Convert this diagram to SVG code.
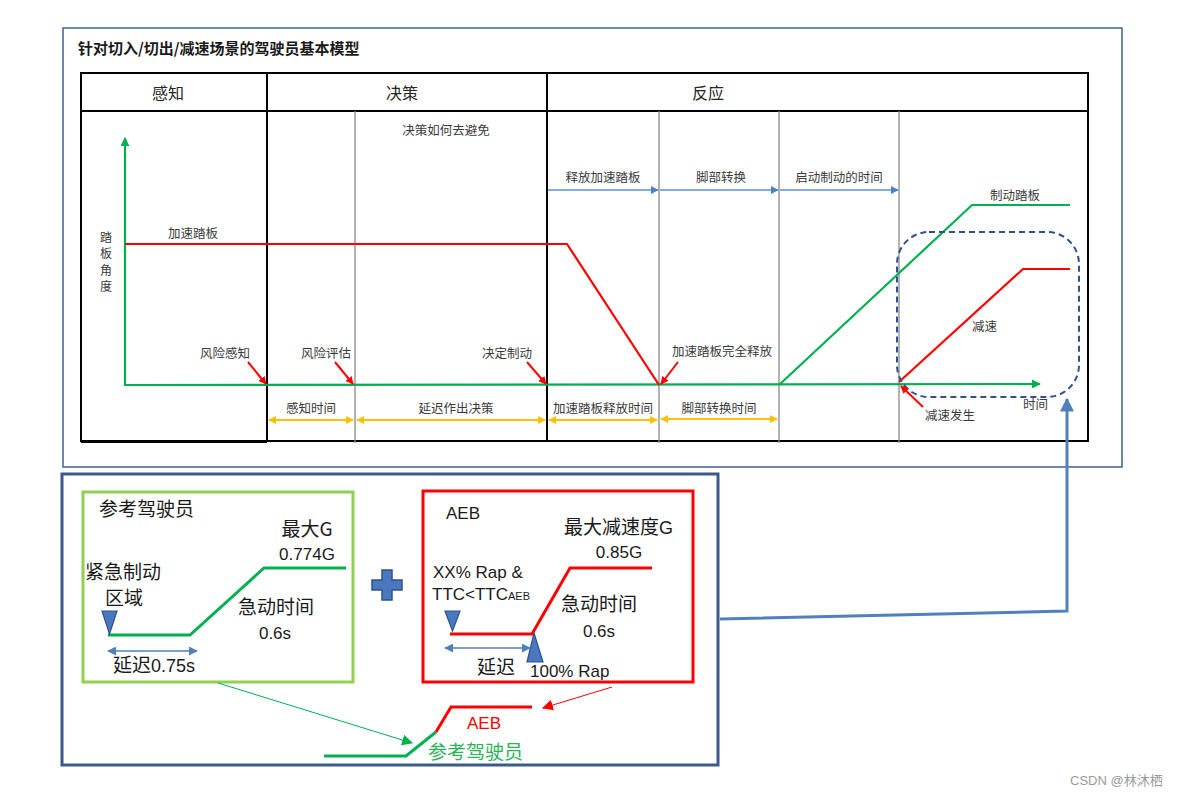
<svg xmlns="http://www.w3.org/2000/svg" width="1185" height="795" viewBox="0 0 1185 795">
<style>
.cj { font-family: "Noto Sans CJK SC", "Liberation Sans", sans-serif; }
.la { font-family: "Liberation Sans", "Noto Sans CJK SC", sans-serif; }
.top { fill:#3a3a3a; font-size:12.5px; }
.vt { fill:#3a3a3a; font-size:12px; }
.hd { fill:#262626; font-size:16px; }
.big { fill:#1a1a1a; font-size:19px; }
.lat { fill:#1a1a1a; font-size:17px; }
.tbl { fill:none; stroke:#000; stroke-width:2; }
.gry { stroke:#8a8a8a; stroke-width:1.3; }
.grn { fill:none; stroke:#00b050; stroke-width:2.2; }
.red { fill:none; stroke:#ff0000; stroke-width:2.2; }
.ptr { stroke:#ff0000; stroke-width:2; marker-end:url(#mRed); }
.blu { stroke:#5b8fd0; stroke-width:1.3; marker-end:url(#mBlue); }
.yel { stroke:#ffc000; stroke-width:2; marker-start:url(#mYel); marker-end:url(#mYel); }
.tri { fill:#4a78bf; stroke:#2f528f; stroke-width:1.2; }
.dbl { stroke:#4f81bd; stroke-width:1.3; marker-start:url(#mDbl); marker-end:url(#mDbl); }
</style>
<defs>
<marker id="mGreen" viewBox="0 0 10 10" refX="9" refY="5" markerWidth="9" markerHeight="9" markerUnits="userSpaceOnUse" orient="auto"><path d="M0,0 L10,5 L0,10 z" fill="#00b050"/></marker>
<marker id="mRed" viewBox="0 0 10 10" refX="9" refY="5" markerWidth="8" markerHeight="8" markerUnits="userSpaceOnUse" orient="auto"><path d="M0,0 L10,5 L0,10 z" fill="#ff0000"/></marker>
<marker id="mBlue" viewBox="0 0 10 10" refX="9" refY="5" markerWidth="8" markerHeight="8" markerUnits="userSpaceOnUse" orient="auto"><path d="M0,0 L10,5 L0,10 z" fill="#4f81bd"/></marker>
<marker id="mYel" viewBox="0 0 10 10" refX="9" refY="5" markerWidth="8" markerHeight="8" markerUnits="userSpaceOnUse" orient="auto-start-reverse"><path d="M0,0 L10,5 L0,10 z" fill="#ffc000"/></marker>
<marker id="mDbl" viewBox="0 0 10 10" refX="9" refY="5" markerWidth="9" markerHeight="9" markerUnits="userSpaceOnUse" orient="auto-start-reverse"><path d="M0,0 L10,5 L0,10 z" fill="#4f81bd"/></marker>
<marker id="mBig" viewBox="0 0 10 10" refX="9" refY="5" markerWidth="14" markerHeight="14" markerUnits="userSpaceOnUse" orient="auto"><path d="M0,0 L10,5 L0,10 z" fill="#4f81bd"/></marker>
<marker id="mGThin" viewBox="0 0 10 10" refX="9" refY="5" markerWidth="11" markerHeight="11" markerUnits="userSpaceOnUse" orient="auto"><path d="M0,0 L10,5 L0,10 z" fill="#00b050"/></marker>
<marker id="mRThin" viewBox="0 0 10 10" refX="9" refY="5" markerWidth="11" markerHeight="11" markerUnits="userSpaceOnUse" orient="auto"><path d="M0,0 L10,5 L0,10 z" fill="#ff0000"/></marker>
</defs>
<rect width="1185" height="795" fill="#fff"/>

<g id="top-frame">
<rect x="63" y="28" width="1059" height="439" fill="none" stroke="#4a6a9a" stroke-width="1.6"/>
<text class="cj" x="78" y="54" font-size="15" font-weight="bold" fill="#1a1a1a">针对切入/切出/减速场景的驾驶员基本模型</text>
</g>

<g id="table">
<rect class="tbl" x="81" y="73" width="1007" height="368"/>
<line class="tbl" x1="81" y1="111" x2="1088" y2="111"/>
<line class="tbl" x1="267" y1="73" x2="267" y2="442"/>
<line class="tbl" x1="547" y1="73" x2="547" y2="441"/>
<line class="tbl" x1="81" y1="442" x2="267" y2="442"/>
<line class="gry" x1="355" y1="111" x2="355" y2="443"/>
<line class="gry" x1="659" y1="111" x2="659" y2="443"/>
<line class="gry" x1="779" y1="111" x2="779" y2="443"/>
<line class="gry" x1="899" y1="111" x2="899" y2="443"/>
</g>
<g id="col-perception"><text class="cj hd" x="168" y="99" text-anchor="middle">感知</text></g>
<g id="col-decision"><text class="cj hd" x="402" y="99" text-anchor="middle">决策</text>
<text class="cj top" x="446" y="135" text-anchor="middle">决策如何去避免</text></g>
<g id="col-reaction"><text class="cj hd" x="708" y="99" text-anchor="middle">反应</text></g>

<g id="chart">
<line x1="125" y1="386" x2="125" y2="138" stroke="#00b050" stroke-width="2.2" marker-end="url(#mGreen)"/>
<line x1="125" y1="385" x2="1040" y2="384" stroke="#00b050" stroke-width="2.2" marker-end="url(#mGreen)"/>
<polyline class="red" points="125,244 567,244 659,385"/>
<polyline class="grn" points="779,385 972,205 1070,205"/>
<polyline class="red" points="899,382 1023,269 1070,269"/>
<rect x="897" y="232" width="182" height="165" rx="32" ry="32" fill="none" stroke="#2f528f" stroke-width="2" stroke-dasharray="6,4"/>
<text class="cj vt" x="100" y="242">踏</text>
<text class="cj vt" x="100" y="258">板</text>
<text class="cj vt" x="100" y="275">角</text>
<text class="cj vt" x="100" y="291">度</text>
<text class="cj top" x="168" y="238">加速踏板</text>
<text class="cj top" x="990" y="200">制动踏板</text>
<text class="cj top" x="972" y="331">减速</text>
<text class="cj top" x="925" y="420">减速发生</text>
<text class="cj top" x="1023" y="409">时间</text>
</g>

<g id="stage-labels">
<line class="blu" x1="548" y1="190" x2="658" y2="190"/>
<line class="blu" x1="660" y1="190" x2="778" y2="190"/>
<line class="blu" x1="780" y1="190" x2="898" y2="190"/>
<text class="cj top" x="603" y="182" text-anchor="middle">释放加速踏板</text>
<text class="cj top" x="721" y="182" text-anchor="middle">脚部转换</text>
<text class="cj top" x="839" y="182" text-anchor="middle">启动制动的时间</text>
</g>

<g id="event-pointers">
<line class="ptr" x1="248" y1="362" x2="266" y2="384"/>
<line class="ptr" x1="335" y1="362" x2="353" y2="384"/>
<line class="ptr" x1="527" y1="362" x2="546" y2="384"/>
<line class="ptr" x1="678" y1="362" x2="661" y2="384"/>
<line class="ptr" x1="923" y1="407" x2="901" y2="386"/>
<text class="cj top" x="200" y="358">风险感知</text>
<text class="cj top" x="301" y="358">风险评估</text>
<text class="cj top" x="482" y="358">决定制动</text>
<text class="cj top" x="672" y="356">加速踏板完全释放</text>
</g>

<g id="timeline">
<line class="yel" x1="269" y1="420" x2="353" y2="420"/>
<line class="yel" x1="357" y1="420" x2="545" y2="420"/>
<line class="yel" x1="549" y1="420" x2="657" y2="420"/>
<line class="yel" x1="661" y1="419" x2="777" y2="419"/>
<text class="cj top" x="311" y="413" text-anchor="middle">感知时间</text>
<text class="cj top" x="456" y="413" text-anchor="middle">延迟作出决策</text>
<text class="cj top" x="603" y="413" text-anchor="middle">加速踏板释放时间</text>
<text class="cj top" x="719" y="413" text-anchor="middle">脚部转换时间</text>
</g>

<g id="bottom-frame">
<rect x="62" y="474" width="656" height="291" fill="none" stroke="#3b5a8c" stroke-width="3"/>
</g>

<g id="ref-driver">
<rect x="83" y="492" width="270" height="190" fill="none" stroke="#92d050" stroke-width="3"/>
<text class="cj big" x="99" y="516">参考驾驶员</text>
<text class="cj big" x="307" y="536" text-anchor="middle">最大G</text>
<text class="la lat" x="307" y="560" text-anchor="middle" font-size="18">0.774G</text>
<text class="cj big" x="85" y="579">紧急制动</text>
<text class="cj big" x="105" y="605">区域</text>
<text class="cj big" x="276" y="614" text-anchor="middle">急动时间</text>
<text class="la lat" x="275" y="639" text-anchor="middle" font-size="18">0.6s</text>
<text class="cj big" x="113" y="672">延迟<tspan class="la" font-size="18">0.75s</tspan></text>
<polyline points="108,635 190,635 264,568 346,568" fill="none" stroke="#00b050" stroke-width="3"/>
<polygon class="tri" points="102,611 117,611 109.5,634"/>
<line class="dbl" x1="108" y1="651" x2="197" y2="651"/>
</g>

<g id="plus">
<polygon points="382,570 392,570 392,580 402,580 402,590 392,590 392,600 382,600 382,590 372,590 372,580 382,580" fill="#4a78bf" stroke="#2f528f" stroke-width="1.5"/>
</g>

<g id="aeb">
<rect x="423" y="491" width="270" height="191" fill="none" stroke="#ff0000" stroke-width="3"/>
<text class="la lat" x="446" y="519" font-size="16">AEB</text>
<text class="cj big" x="564" y="534">最大减速度<tspan class="la" font-size="18">G</tspan></text>
<text class="la lat" x="619" y="558" text-anchor="middle" font-size="18">0.85G</text>
<text class="la lat" x="433" y="578">XX% Rap &amp;</text>
<text class="la lat" x="432" y="600" font-size="16">TTC&lt;TTC<tspan font-size="11">AEB</tspan></text>
<text class="cj big" x="561" y="611">急动时间</text>
<text class="la lat" x="599" y="637" text-anchor="middle" font-size="18">0.6s</text>
<text class="cj big" x="477" y="674">延迟</text>
<text class="la lat" x="530" y="677">100% Rap</text>
<polyline points="450,634 532,634 570,568 652,568" fill="none" stroke="#ff0000" stroke-width="3"/>
<polygon class="tri" points="445,611 460,611 452.5,631"/>
<polygon class="tri" points="534,633 543,662 527,662"/>
<line class="dbl" x1="445" y1="648" x2="530" y2="648"/>
</g>

<g id="combined">
<polyline points="324,756 406,756 436,732" fill="none" stroke="#00b050" stroke-width="3"/>
<polyline points="436,732 451,707 532,707" fill="none" stroke="#ff0000" stroke-width="3"/>
<text class="la" x="467" y="729" font-size="17" fill="#ff0000">AEB</text>
<text class="cj" x="428" y="759" font-size="19" fill="#2bb35a">参考驾驶员</text>
</g>

<g id="connectors">
<line x1="218" y1="683" x2="412" y2="743" stroke="#00b050" stroke-width="1" marker-end="url(#mGThin)"/>
<line x1="612" y1="687" x2="543" y2="708" stroke="#ff0000" stroke-width="1" marker-end="url(#mRThin)"/>
<polyline points="720,619 1067,611 1067,399" fill="none" stroke="#4f81bd" stroke-width="3" marker-end="url(#mBig)"/>
</g>

<text class="la" x="1070" y="785" font-size="13" fill="#9a9a9a">CSDN @<tspan class="cj">林沐栖</tspan></text>
</svg>
